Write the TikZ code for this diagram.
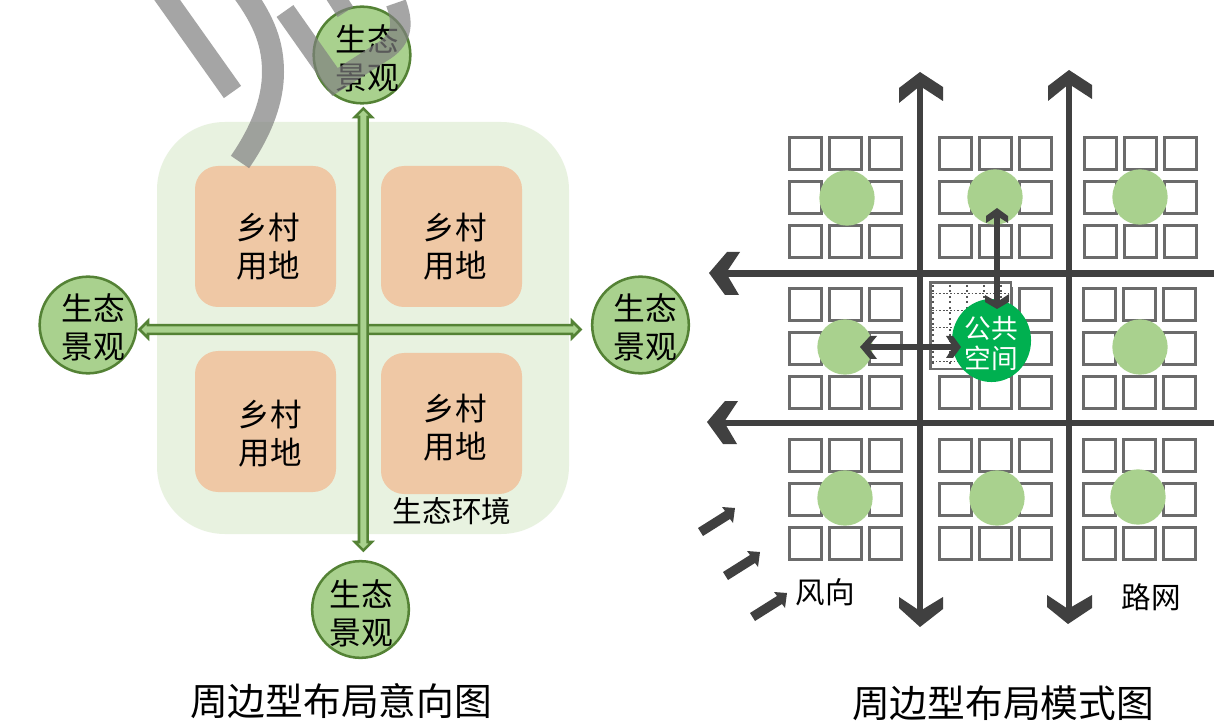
\documentclass[tikz,border=0pt]{standalone}
\usepackage{fontspec}
\setmainfont{Noto Sans CJK SC}
\usetikzlibrary{shapes.geometric}
\definecolor{mint}{HTML}{E8F2E0}
\definecolor{peach}{HTML}{EFC8A5}
\definecolor{leaf}{HTML}{A9D18E}
\definecolor{leafdark}{HTML}{548235}
\definecolor{road}{HTML}{404040}
\definecolor{sqline}{HTML}{6B6B6B}
\definecolor{dotgrey}{HTML}{555555}
\definecolor{pubgreen}{HTML}{00B050}
\tikzset{
  x=0.75pt,y=-0.75pt,
  plot/.style={fill=peach,rounded corners=17.25pt},
  plotlabel/.style={align=center,inner sep=0pt,font=\fontsize{23.6}{28.5}\selectfont},
  ringnode/.style={circle,draw=leafdark,fill=leaf,line width=1.9pt,minimum size=72.5pt,inner sep=0pt},
  ringlabel/.style={align=center,inner sep=0pt,font=\fontsize{23.8}{28.5}\selectfont},
  axisarrow/.style={draw=leafdark,fill=leaf,line width=1.9pt,miter limit=4},
  ghostroad/.style={draw=black!50,draw opacity=.7,fill=none},
  sq/.style={draw=sqline,line width=2pt,fill=white},
  disc/.style={circle,fill=leaf,minimum size=41.5pt,inner sep=0pt},
  roadline/.style={draw=road,line width=5.1pt},
  innerline/.style={draw=road,line width=4.6pt},
  head/.style={fill=road},
  caption/.style={inner sep=0pt,font=\fontsize{28.3}{34}\selectfont},
  small/.style={inner sep=0pt,font=\fontsize{22.2}{27}\selectfont},
}
\newcommand{\blockgrid}[2]{%
  \foreach \dx in {0,40,80}{\foreach \dy in {0,44,88}{%
    \draw[sq] ({#1+\dx+1.5},{#2+\dy+1.5}) rectangle ++(32,32);}}}
\begin{document}
\begin{tikzpicture}
\useasboundingbox (0,0) rectangle (1214,727);
\clip (0,0) rectangle (1214,727);
\fill[white] (0,0) rectangle (1214,727);
% left diagram
\fill[mint,rounded corners=51pt] (157,122) rectangle (569,534);
\path[plot] (195,166) rectangle (336,307);
\path[plot] (381,166) rectangle (522,307);
\path[plot] (195,351) rectangle (336,492);
\path[plot] (381,353) rectangle (522,494);
\node[plotlabel] (p1) at (268,247) {乡村\\用地};
\node[plotlabel] (p2) at (455,247) {乡村\\用地};
\node[plotlabel] (p3) at (270,434) {乡村\\用地};
\node[plotlabel] (p4) at (455,428) {乡村\\用地};
\node[small] (env) at (452,511) {生态环境};
% double arrows
\draw[axisarrow] (139.5,329.5) -- (148,321) -- (148,325.2) -- (572,325.2) -- (572,321)
   -- (580.5,329.5) -- (572,338) -- (572,333.8) -- (148,333.8) -- (148,338) -- cycle;
\draw[axisarrow] (363.3,108.5) -- (371.8,117) -- (367.6,117) -- (367.6,542) -- (371.8,542)
   -- (363.3,550.5) -- (354.8,542) -- (359,542) -- (359,117) -- (354.8,117) -- cycle;
\node[ringnode] (cT) at (362,55) {};
\node[ringnode] (cL) at (88,325) {};
\node[ringnode] (cR) at (640.5,325) {};
\node[ringnode] (cB) at (360.5,609.5) {};
\node[ringlabel] (tT) at (367,58) {生态\\景观};
\node[ringlabel] (tL) at (93,327) {生态\\景观};
\node[ringlabel] (tR) at (645,327) {生态\\景观};
\node[ringlabel] (tB) at (361,613) {生态\\景观};
% grey road overlay
\draw[ghostroad,line width=15.8pt] (153,-20) -- (232.5,92);
\draw[ghostroad,line width=16.5pt] (243,-8) .. controls (265,22) and (273,45) .. (273,72) .. controls (273,100) and (262,130) .. (240,162);
\draw[ghostroad,line width=15.4pt] (285,11) -- (335,82) -- (385,50) .. controls (403,38) and (403,22) .. (396,3);
\draw[ghostroad,line width=14pt] (332,-9) -- (345.5,12);
% right diagram blocks
\blockgrid{788}{136}\blockgrid{938}{136}\blockgrid{1083}{136}
\blockgrid{788}{287}\blockgrid{938}{287}\blockgrid{1082}{287}
\blockgrid{788}{438}\blockgrid{938}{438}\blockgrid{1082}{438}
% dotted public block
\draw[sq] (930.5,282.5) rectangle (1011,369);
\foreach \xx in {933,950,967,984,1001}{\draw[dotgrey,line width=1.5pt,dash pattern=on 1.5pt off 2.6pt] (\xx,285) -- (\xx,367);}
\foreach \yy in {293,310,327,344,361}{\draw[dotgrey,line width=.6pt,dash pattern=on 1.4pt off 1.3pt] (932,\yy) -- (1010,\yy);}
% green discs
\foreach \n/\cx/\cy in {a/847/198,b/995/197,c/1140/197,d/845/347,e/1140/347,f/845/498,g/997/498,h/1138/497}{\node[disc] (d\n) at (\cx,\cy) {};}
% public space
\node[ellipse,fill=pubgreen,minimum width=59.3pt,minimum height=62.3pt,inner sep=0pt] (pub) at (991.5,340.5) {};
\node[align=center,inner sep=0pt,text=white,font=\fontsize{20}{22.5}\selectfont] (pubt) at (991,343) {公共\\空间};
% roads
\coordinate (v1a) at (920,84); \coordinate (v1b) at (920,612);
\coordinate (v2a) at (1069,84); \coordinate (v2b) at (1069,610);
\coordinate (h1a) at (724,273.5); \coordinate (h1b) at (1214,273.5);
\coordinate (h2a) at (722,423); \coordinate (h2b) at (1214,423);
\draw[roadline] (v1a) -- (v1b);
\draw[roadline] (v2a) -- (v2b);
\draw[roadline] (h1a) -- (h1b);
\draw[roadline] (h2a) -- (h2b);
\fill[head] (920,72) -- (943,87) -- (943,101) -- (920,86) -- (899,103) -- (899,88) -- cycle;
\fill[head] (1069,70) -- (1092,85) -- (1092,99) -- (1069,84) -- (1048,101) -- (1048,86) -- cycle;
\fill[head] (920,627) -- (943,609) -- (943,597) -- (920,611) -- (899,597) -- (899,608) -- cycle;
\fill[head] (1068,624) -- (1092,608) -- (1092,595) -- (1068,609) -- (1047,595) -- (1047,607) -- cycle;
\fill[head] (709,273) -- (727,252) -- (740,252) -- (726,273) -- (739,295) -- (725,295) -- cycle;
\fill[head] (707,422) -- (725,401) -- (738,401) -- (724,422) -- (737,444) -- (723,444) -- cycle;
% inner double arrows
\coordinate (ia) at (997,214); \coordinate (ib) at (997,303);
\coordinate (ic) at (866,347); \coordinate (id) at (955,347);
\draw[innerline] (ia) -- (ib);
\draw[innerline] (ic) -- (id);
\fill[head] (997,208) -- (1008,216) -- (1008,223) -- (997,216) -- (986,223) -- (986,216) -- cycle;
\fill[head] (997,309) -- (1009,302) -- (1009,294) -- (997,302) -- (985,295) -- (985,302) -- cycle;
\fill[head] (860,347) -- (870,336) -- (877,336) -- (868,347) -- (877,359) -- (870,359) -- cycle;
\fill[head] (961,347) -- (953,336) -- (946,336) -- (953,347) -- (946,358) -- (953,358) -- cycle;
% wind arrows
\foreach \sx/\sy in {0/0,25/44,52/85}{
  \fill[head,shift={(\sx,\sy)}] (698,528) -- (725,511) -- (722,507) -- (735,508) -- (733,523) -- (730,519) -- (703,536) -- cycle;}
% labels
\node[small] (wind) at (825,592) {风向};
\node[small] (net) at (1151,597) {路网};
\node[caption] (cap1) at (341,701) {周边型布局意向图};
\node[caption] (cap2) at (1003,703) {周边型布局模式图};
\end{tikzpicture}
\end{document}
